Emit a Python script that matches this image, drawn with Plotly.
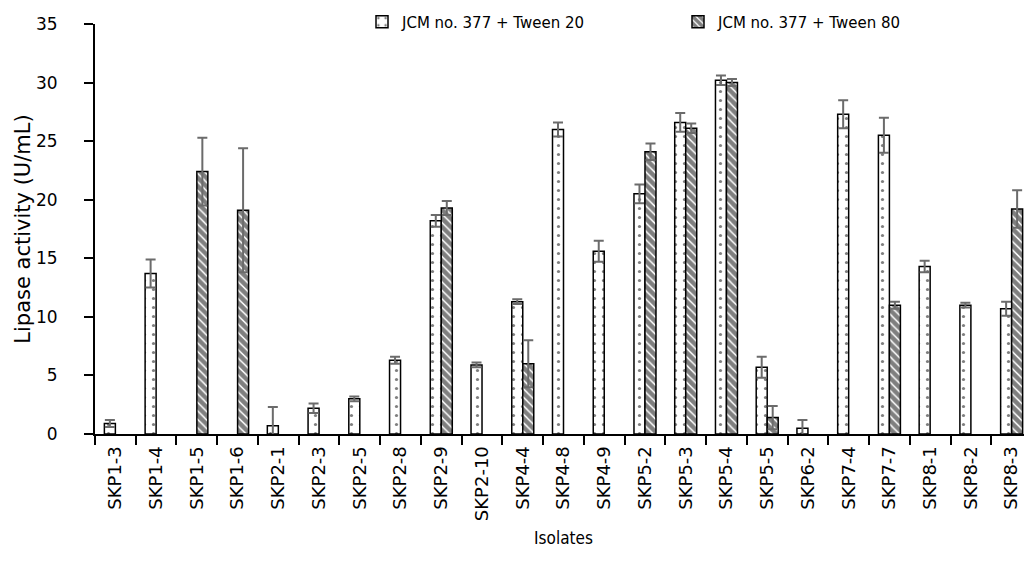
import plotly.graph_objects as go

isolates = ["SKP1-3", "SKP1-4", "SKP1-5", "SKP1-6", "SKP2-1", "SKP2-3", "SKP2-5",
            "SKP2-8", "SKP2-9", "SKP2-10", "SKP4-4", "SKP4-8", "SKP4-9", "SKP5-2",
            "SKP5-3", "SKP5-4", "SKP5-5", "SKP6-2", "SKP7-4", "SKP7-7", "SKP8-1",
            "SKP8-2", "SKP8-3"]

tween20 = [0.9, 13.7, None, None, 0.7, 2.2, 3.0, 6.3, 18.2, 5.9, 11.3, 26.0, 15.6,
           20.5, 26.6, 30.2, 5.7, 0.5, 27.3, 25.5, 14.3, 11.0, 10.7]
tween20_err = [0.3, 1.2, None, None, 1.6, 0.4, 0.2, 0.3, 0.5, 0.2, 0.2, 0.6, 0.9,
               0.8, 0.8, 0.4, 0.9, 0.7, 1.2, 1.5, 0.5, 0.2, 0.6]

tween80 = [None, None, 22.4, 19.1, None, None, None, None, 19.3, None, 6.0, None, None,
           24.1, 26.1, 30.0, 1.4, None, None, 11.0, None, None, 19.2]
tween80_err = [None, None, 2.9, 5.3, None, None, None, None, 0.6, None, 2.0, None, None,
               0.7, 0.4, 0.3, 1.0, None, None, 0.3, None, None, 1.6]

series_names = ["JCM no. 377 + Tween 20", "JCM no. 377 + Tween 80"]

FONT = "DejaVu Sans"
ERR_COLOR = "#6b6b6b"
# the page body has an 8px default margin, so the figure is drawn 8px smaller
W, H = 1024, 564

fig = go.Figure()
fig.add_trace(go.Bar(
    x=isolates, y=tween20, name=series_names[0],
    marker=dict(color="white", line=dict(color="black", width=1.5),
                pattern=dict(shape=".", fgcolor="black", bgcolor="white",
                             size=9, solidity=0.1, fillmode="overlay")),
    error_y=dict(type="data", array=tween20_err, visible=True,
                 color=ERR_COLOR, thickness=2, width=5),
    cliponaxis=False,
))
fig.add_trace(go.Bar(
    x=isolates, y=tween80, name=series_names[1],
    marker=dict(color="white", line=dict(color="black", width=1.5),
                pattern=dict(shape="\\", fgcolor="black", bgcolor="white",
                             size=6, solidity=0.75, fillmode="overlay")),
    error_y=dict(type="data", array=tween80_err, visible=True,
                 color=ERR_COLOR, thickness=2, width=5),
    cliponaxis=False,
))

fig.update_layout(
    width=W, height=H, autosize=False,
    margin=dict(l=87, r=0, t=16, b=138, autoexpand=False),
    paper_bgcolor="white", plot_bgcolor="white",
    barmode="group", bargap=0.46, bargroupgap=0,
    font=dict(family=FONT, color="black", size=15),
    legend=dict(orientation="h", xref="container", x=354 / W, xanchor="left",
                yref="container", y=1 - 14 / H, yanchor="middle",
                font=dict(size=15, family=FONT),
                entrywidth=271, entrywidthmode="pixels",
                bgcolor="rgba(0,0,0,0)", itemclick=False),
    showlegend=True,
)
fig.update_xaxes(
    type="category", range=[-0.5, 22.5], automargin=False,
    showline=True, linecolor="black", linewidth=2,
    ticks="outside", tickson="boundaries", ticklen=9, tickwidth=2, tickcolor="black",
    tickangle=-90, tickfont=dict(size=18, family=FONT), ticklabelstandoff=3,
    showgrid=False, zeroline=False,
    title=dict(text="Isolates", font=dict(size=17, family="DejaVu Sans Condensed"), standoff=12),
)
fig.update_yaxes(
    range=[0, 35], dtick=5, tick0=0, automargin=False,
    showline=True, linecolor="black", linewidth=2,
    ticks="outside", ticklen=9, tickwidth=2, tickcolor="black",
    ticklabelstandoff=23, tickfont=dict(size=17, family=FONT),
    showgrid=False, zeroline=False,
    title=dict(text="Lipase activity (U/mL)", font=dict(size=21, family=FONT), standoff=0),
)

fig.write_html("out.html")
